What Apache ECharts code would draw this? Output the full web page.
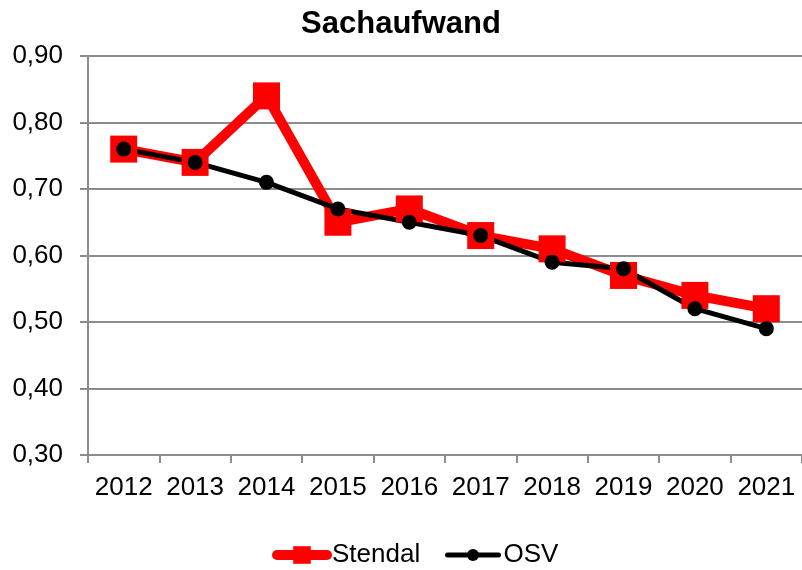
<!DOCTYPE html>
<html>
<head>
<meta charset="utf-8">
<script src="https://cdn.jsdelivr.net/npm/echarts@6/dist/echarts.min.js"></script>
<style>
html,body{margin:0;padding:0;background:#fff;}
#chart{width:802px;height:570px;}
</style>
</head>
<body>
<div id="chart"></div>
<script>
// Jahre und Werte
var years = ['2012','2013','2014','2015','2016','2017','2018','2019','2020','2021'];
var stendal = [0.76, 0.74, 0.84, 0.65, 0.67, 0.63, 0.61, 0.57, 0.54, 0.52];
var osv = [0.76, 0.74, 0.71, 0.67, 0.65, 0.63, 0.59, 0.58, 0.52, 0.49];

var myChart = echarts.init(document.getElementById('chart'));
var font = 'Liberation Sans, Arial, sans-serif';
var legendText = { fontFamily: font, fontSize: 26, color: '#000' };
var option = {
    animation: false,
    title: {
        text: 'Sachaufwand',
        left: 'center',
        top: 4,
        textStyle: { fontFamily: font, fontSize: 31, fontWeight: 'bold', color: '#000' }
    },
    // zwei Legenden, damit die Symbole unterschiedlich gross sind
    legend: [
        {
            left: 272,
            top: 542,
            padding: 0,
            itemWidth: 50,
            itemHeight: 22,
            textStyle: legendText,
            data: [{ name: 'Stendal', lineStyle: { width: 10, cap: 'round' } }]
        },
        {
            left: 445,
            top: 542,
            padding: 0,
            itemWidth: 51,
            itemHeight: 15,
            textStyle: legendText,
            data: [{ name: 'OSV', lineStyle: { width: 5, cap: 'round' } }]
        }
    ],
    grid: {
        left: 88,
        right: 0,
        top: 56,
        bottom: 115,
        containLabel: false
    },
    xAxis: {
        type: 'category',
        data: years,
        boundaryGap: true,
        axisLine: { lineStyle: { color: '#8c8c8c', width: 2 } },
        axisTick: { show: true, length: 8, lineStyle: { color: '#8c8c8c', width: 2 } },
        axisLabel: { fontFamily: font, fontSize: 26, color: '#000', margin: 20, interval: 0 }
    },
    yAxis: {
        type: 'value',
        min: 0.3,
        max: 0.9,
        interval: 0.1,
        axisLine: { show: true, lineStyle: { color: '#8c8c8c', width: 2 } },
        axisTick: { show: true, length: 8, lineStyle: { color: '#8c8c8c', width: 2 } },
        splitLine: { lineStyle: { color: '#8c8c8c', width: 2 } },
        axisLabel: {
            fontFamily: font, fontSize: 26, color: '#000', margin: 25,
            formatter: function (v) { return v.toFixed(2).replace('.', ','); }
        }
    },
    series: [
        {
            name: 'Stendal',
            type: 'line',
            data: stendal,
            symbol: 'rect',
            symbolSize: 27,
            lineStyle: { color: '#ff0000', width: 10 },
            itemStyle: { color: '#ff0000' }
        },
        {
            name: 'OSV',
            type: 'line',
            data: osv,
            symbol: 'circle',
            symbolSize: 15,
            lineStyle: { color: '#000', width: 5 },
            itemStyle: { color: '#000' }
        }
    ]
};
myChart.setOption(option, true);
window.addEventListener('resize', () => myChart.resize());
</script>
</body>
</html>
